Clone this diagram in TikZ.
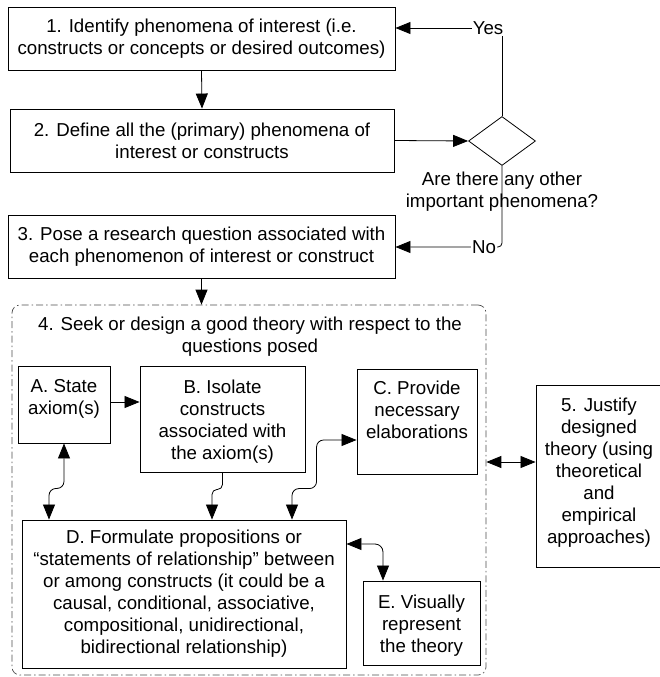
\documentclass[tikz,border=0pt]{standalone}
\usepackage{fontspec}
\setmainfont{Liberation Sans}
\usetikzlibrary{arrows.meta,shapes.geometric}

\begin{document}
\begin{tikzpicture}[x=1pt,y=-1pt,
  txt/.style={font=\fontsize{18.7}{22}\selectfont, align=center},
  box/.style={draw=black, line width=0.9pt, rectangle, inner sep=0pt, txt},
  toptext/.style={anchor=north, yshift=-14pt, inner sep=0pt, txt},
  tag/.style={fill=white, inner sep=1pt, txt},
  arr/.style={draw=black, line width=0.8pt, -{Triangle[length=15pt,width=12pt]}},
  dbl/.style={draw=black, line width=0.8pt, {Triangle[length=15pt,width=12pt]}-{Triangle[length=15pt,width=12pt]}},
  frame/.style={draw=black!70, line width=0.7pt, rounded corners=8pt,
    dash pattern=on 7pt off 3pt on 1.5pt off 3pt, inner sep=0pt}
]
\useasboundingbox (0,0) rectangle (660,677);

% main steps
\node[box, minimum width=387pt, minimum height=63pt] (s1) at (201.5,38.5)
  {1. Identify phenomena of interest (i.e.\\constructs or concepts or desired outcomes)};
\node[box, minimum width=384pt, minimum height=63pt] (s2) at (202,140.5)
  {2. Define all the (primary) phenomena of\\interest or constructs};
\node[box, minimum width=387pt, minimum height=63pt] (s3) at (201.5,246.5)
  {3. Pose a research question associated with\\each phenomenon of interest or construct};

% decision
\node[draw=black, line width=0.8pt, diamond, inner sep=0pt,
      minimum width=67pt, minimum height=49pt] (dia) at (502,141) {};
\node[txt, inner sep=0pt] (q) at (502,192) {Are there any other\\important phenomena?};

% step 4 frame
\node[frame, minimum width=474pt, minimum height=370pt] (cont) at (249,490) {};
\node[txt, inner sep=0pt] (t4) at (250,337)
  {4. Seek or design a good theory with respect to the\\questions posed};

% sub-steps
\node[box, minimum width=92pt, minimum height=77pt,
      label={[toptext]north:{A. State\\axiom(s)}}] (A) at (64,404.5) {};
\node[box, minimum width=165pt, minimum height=106pt,
      label={[toptext]north:{B. Isolate\\constructs\\associated with\\the axiom(s)}}] (B) at (222.5,419) {};
\node[box, minimum width=120pt, minimum height=105pt,
      label={[toptext, yshift=2pt]north:{C. Provide\\necessary\\elaborations}}] (C) at (417,421.5) {};
\node[box, minimum width=324pt, minimum height=148pt] (D) at (184,594)
  {D. Formulate propositions or\\``statements of relationship'' between\\or among constructs (it could be a\\causal, conditional, associative,\\compositional, unidirectional,\\bidirectional relationship)};
\node[box, minimum width=117pt, minimum height=84pt,
      label={[toptext]north:{E. Visually\\represent\\the theory}}] (E) at (421.5,623) {};

% step 5
\node[box, minimum width=126pt, minimum height=182pt,
      label={[toptext, yshift=1pt]north:{5. Justify\\designed\\theory (using\\theoretical\\and\\empirical\\approaches)}}] (s5) at (599,476) {};

% main flow
\draw[arr] (s1.south) -- (s2.north);
\draw[arr] (s2.east) -- (dia.west);
\draw[arr] (s3.south) -- (s3.south |- cont.north);

% decision outcomes
\coordinate (ycorner) at (502,28);
\coordinate (ncorner) at (502,247);
\draw[arr] (dia.north) -- (ycorner) -- (s1.east |- ycorner);
\draw[arr, rounded corners=4pt] (dia.south) -- (ncorner) -- (s3.east |- ncorner);
\node[tag] (yes) at (488,28) {Yes};
\node[tag] (no) at (484,247) {No};

% links inside step 4
\coordinate (aout) at ([yshift=2.5pt]A.east);
\draw[arr] (aout) -- (aout -| B.west);
\draw[dbl, rounded corners=7pt] (A.south) -- ++(0,45) -| ([xshift=-135pt]D.north);
\draw[arr, rounded corners=5pt] (B.south) -- ++(0,17) -| ([xshift=28pt]D.north);
\coordinate (cin) at ([yshift=-18.5pt]C.west);
\draw[dbl, rounded corners=7pt] ([xshift=108pt]D.north) -- ++(0,-31) -| ([xshift=-40pt]cin) -- (cin);
\draw[dbl, rounded corners=8pt] ([yshift=50pt]D.east) -| ([xshift=-38.5pt]E.north);

% step 4 to step 5
\coordinate (p5) at ([yshift=14pt]s5.west);
\draw[dbl] (cont.east |- p5) -- (p5);
\end{tikzpicture}
\end{document}
